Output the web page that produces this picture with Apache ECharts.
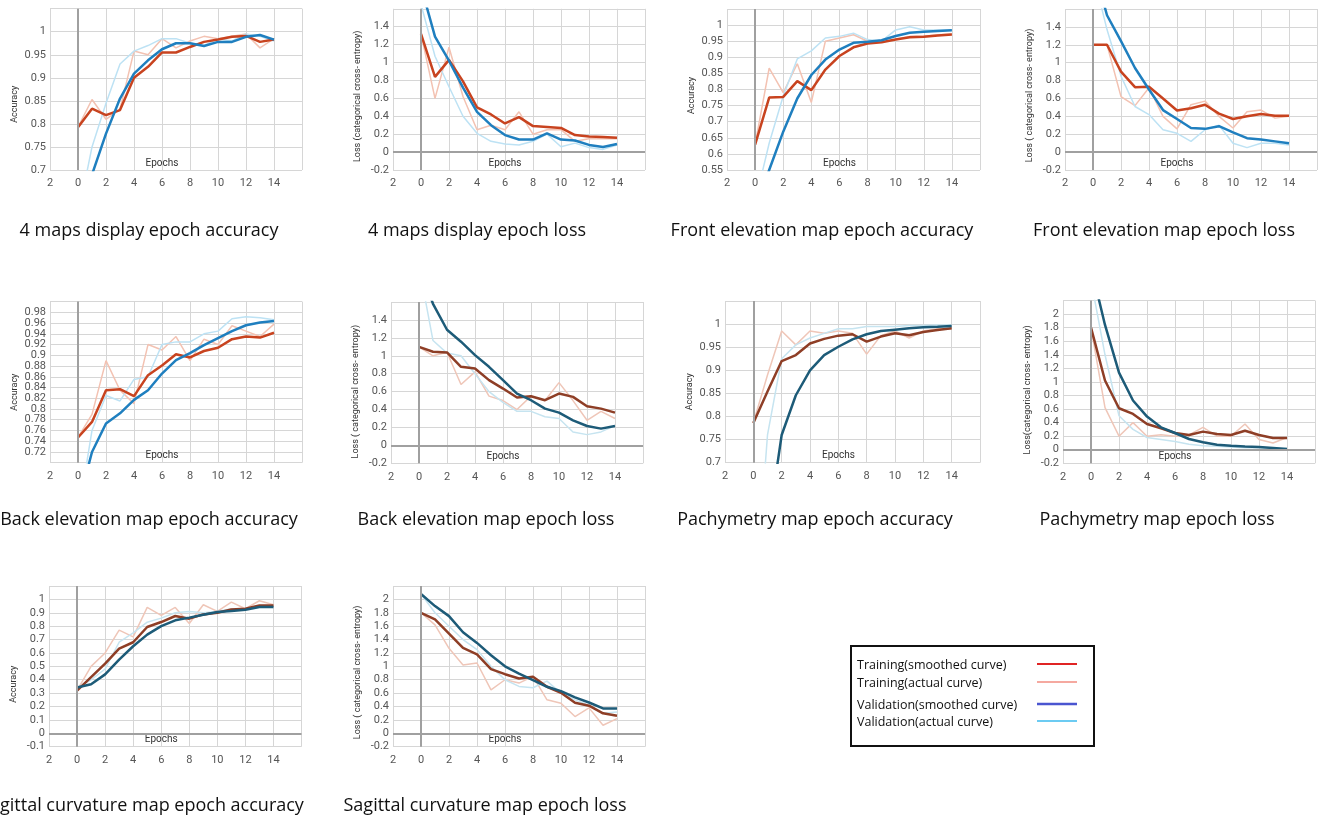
<!DOCTYPE html>
<html><head><meta charset="utf-8">
<script src="https://cdn.jsdelivr.net/npm/echarts/dist/echarts.min.js"></script>
<style>html,body{margin:0;padding:0;background:#fff}#c{width:1321px;height:822px}</style>
</head><body><div id="c"></div><script>
const EPOCHS = [0,1,2,3,4,5,6,7,8,9,10,11,12,13,14];

// 4 maps display
const mapsAccTrainSmooth = [0.793,0.833,0.819,0.830,0.900,0.924,0.955,0.955,0.967,0.978,0.983,0.989,0.991,0.978,0.983];
const mapsAccTrainActual = [0.793,0.853,0.810,0.832,0.958,0.950,0.985,0.965,0.980,0.990,0.985,0.990,0.995,0.965,0.985];
const mapsAccValSmooth   = [0.600,0.690,0.779,0.855,0.909,0.938,0.962,0.975,0.975,0.969,0.978,0.978,0.989,0.993,0.983];
const mapsAccValActual   = [0.600,0.750,0.845,0.930,0.958,0.970,0.985,0.985,0.975,0.970,0.985,0.980,0.995,0.990,0.980];
const mapsLossTrainSmooth = [1.32,0.84,1.03,0.79,0.50,0.42,0.32,0.39,0.29,0.28,0.27,0.19,0.175,0.168,0.16];
const mapsLossTrainActual = [1.32,0.60,1.17,0.62,0.25,0.30,0.25,0.45,0.20,0.25,0.25,0.12,0.15,0.15,0.15];
const mapsLossValSmooth   = [1.85,1.29,1.02,0.72,0.45,0.30,0.19,0.14,0.14,0.21,0.14,0.13,0.08,0.056,0.09];
const mapsLossValActual   = [1.65,1.07,0.73,0.40,0.21,0.12,0.09,0.08,0.12,0.20,0.06,0.10,0.05,0.03,0.08];

// Front elevation map
const frontAccTrainSmooth = [0.629,0.775,0.777,0.826,0.798,0.862,0.904,0.931,0.943,0.947,0.955,0.962,0.964,0.968,0.971];
const frontAccTrainActual = [0.629,0.866,0.790,0.880,0.760,0.950,0.960,0.970,0.950,0.948,0.955,0.965,0.965,0.970,0.972];
const frontAccValSmooth   = [0.420,0.550,0.669,0.772,0.845,0.893,0.924,0.945,0.948,0.953,0.966,0.976,0.979,0.982,0.984];
const frontAccValActual   = [0.450,0.633,0.780,0.895,0.920,0.960,0.965,0.975,0.955,0.950,0.985,0.995,0.985,0.985,0.985];
const frontLossTrainSmooth = [1.20,1.20,0.90,0.726,0.73,0.60,0.465,0.49,0.53,0.43,0.37,0.40,0.425,0.406,0.406];
const frontLossTrainActual = [1.20,1.20,0.62,0.52,0.72,0.40,0.26,0.53,0.57,0.40,0.27,0.45,0.47,0.38,0.40];
const frontLossValSmooth   = [2.10,1.53,1.24,0.94,0.70,0.47,0.37,0.27,0.26,0.29,0.22,0.156,0.14,0.12,0.10];
const frontLossValActual   = [2.00,1.37,0.85,0.51,0.42,0.25,0.21,0.12,0.25,0.30,0.10,0.05,0.10,0.10,0.08];

// Back elevation map
const backAccTrainSmooth = [0.747,0.776,0.835,0.837,0.824,0.863,0.881,0.902,0.896,0.908,0.914,0.930,0.935,0.933,0.942];
const backAccTrainActual = [0.747,0.790,0.890,0.835,0.810,0.920,0.910,0.935,0.890,0.930,0.920,0.955,0.945,0.935,0.958];
const backAccValSmooth   = [0.620,0.720,0.773,0.792,0.817,0.835,0.866,0.891,0.904,0.919,0.932,0.945,0.956,0.961,0.964];
const backAccValActual   = [0.600,0.760,0.825,0.815,0.855,0.860,0.920,0.925,0.925,0.940,0.945,0.968,0.972,0.970,0.966];
const backLossTrainSmooth = [1.10,1.045,1.037,0.877,0.858,0.728,0.634,0.534,0.548,0.504,0.578,0.541,0.437,0.41,0.366];
const backLossTrainActual = [1.10,1.00,1.04,0.68,0.82,0.55,0.50,0.40,0.55,0.50,0.70,0.50,0.28,0.38,0.30];
const backLossValSmooth   = [2.00,1.58,1.29,1.157,1.007,0.877,0.728,0.578,0.504,0.41,0.366,0.28,0.216,0.187,0.216];
const backLossValActual   = [2.00,1.17,1.03,1.00,0.80,0.60,0.48,0.38,0.38,0.32,0.30,0.15,0.12,0.15,0.22];

// Pachymetry map
const pachyAccTrainSmooth = [0.786,0.854,0.920,0.933,0.958,0.968,0.975,0.978,0.962,0.973,0.980,0.976,0.983,0.987,0.991];
const pachyAccTrainActual = [0.786,0.890,0.985,0.955,0.985,0.980,0.985,0.980,0.935,0.975,0.985,0.970,0.985,0.990,0.990];
const pachyAccValSmooth   = [0.300,0.550,0.760,0.846,0.900,0.933,0.951,0.967,0.978,0.985,0.988,0.991,0.993,0.994,0.996];
const pachyAccValActual   = [0.350,0.760,0.925,0.955,0.970,0.980,0.990,0.990,0.995,0.995,0.995,0.997,0.997,0.998,0.998];
const pachyLossTrainSmooth = [1.80,1.02,0.612,0.528,0.38,0.316,0.247,0.217,0.267,0.232,0.217,0.28,0.217,0.173,0.173];
const pachyLossTrainActual = [1.80,0.62,0.20,0.40,0.20,0.22,0.20,0.22,0.33,0.20,0.20,0.38,0.15,0.10,0.18];
const pachyLossValSmooth   = [2.70,1.84,1.136,0.726,0.489,0.33,0.247,0.158,0.109,0.074,0.059,0.049,0.04,0.025,0.01];
const pachyLossValActual   = [2.50,1.40,0.50,0.30,0.18,0.15,0.12,0.08,0.06,0.05,0.04,0.03,0.03,0.02,0.02];

// Sagittal curvature map
const sagAccTrainSmooth = [0.318,0.42,0.52,0.633,0.68,0.794,0.831,0.876,0.856,0.888,0.90,0.925,0.93,0.955,0.955];
const sagAccTrainActual = [0.32,0.50,0.60,0.77,0.72,0.94,0.88,0.94,0.82,0.96,0.91,0.98,0.93,0.99,0.96];
const sagAccValSmooth   = [0.342,0.367,0.44,0.55,0.65,0.737,0.80,0.844,0.864,0.886,0.906,0.913,0.923,0.943,0.943];
const sagAccValActual   = [0.34,0.40,0.48,0.68,0.75,0.83,0.86,0.90,0.91,0.90,0.91,0.93,0.93,0.95,0.94];
const sagLossTrainSmooth = [1.80,1.70,1.49,1.275,1.18,0.958,0.883,0.819,0.844,0.695,0.605,0.457,0.412,0.298,0.263];
const sagLossTrainActual = [1.80,1.62,1.27,1.02,1.05,0.65,0.80,0.75,0.85,0.50,0.45,0.25,0.38,0.12,0.22];
const sagLossValSmooth   = [2.08,1.90,1.75,1.51,1.35,1.166,1.00,0.893,0.794,0.695,0.63,0.536,0.46,0.372,0.372];
const sagLossValActual   = [2.08,1.80,1.60,1.40,1.25,1.00,0.80,0.70,0.68,0.78,0.60,0.50,0.42,0.30,0.32];

const TITLES = [
  '4 maps display epoch accuracy','4 maps display epoch loss',
  'Front elevation map epoch accuracy','Front elevation map epoch loss',
  'Back elevation map epoch accuracy','Back elevation map epoch loss',
  'Pachymetry map epoch accuracy','Pachymetry map epoch loss',
  'Sagittal curvature map epoch accuracy','Sagittal curvature map epoch loss'
];
const Y_NAMES = [
  'Accuracy','Loss (categorical cross- entropy)',
  'Accuracy','Loss ( categorical cross- entropy)',
  'Accuracy','Loss ( categorical cross- entropy)',
  'Accuracy','Loss(categorical cross- entropy)',
  'Accuracy','Loss ( categorical cross- entropy)'
];
const LEGEND_LABELS = ['Training(smoothed curve)','Training(actual curve)','Validation(smoothed curve)','Validation(actual curve)'];

const PAL_A = {ts:'#c8431f', ta:'#f3c2b2', vs:'#1f7fbf', va:'#bde2f4'};
const PAL_B = {ts:'#8e3e26', ta:'#efc6b8', vs:'#1d5b78', va:'#c6e4f0'};

const panels = [
  {scale:[0.7,1.05,0.05], box:[50,8.7,252,161.3], s:[mapsAccTrainSmooth,mapsAccTrainActual,mapsAccValSmooth,mapsAccValActual], pal:PAL_A, tpos:[149,231], shift:15},
  {scale:[-0.2,1.6,0.2], box:[393,8.8,252,161.2], s:[mapsLossTrainSmooth,mapsLossTrainActual,mapsLossValSmooth,mapsLossValActual], pal:PAL_A, tpos:[477,231], shift:7},
  {scale:[0.55,1.05,0.05], box:[727,9,253,161], s:[frontAccTrainSmooth,frontAccTrainActual,frontAccValSmooth,frontAccValActual], pal:PAL_A, tpos:[822,231], shift:6},
  {scale:[-0.2,1.6,0.2], box:[1065,9,252,161], s:[frontLossTrainSmooth,frontLossTrainActual,frontLossValSmooth,frontLossValActual], pal:PAL_A, tpos:[1164,231], shift:6},
  {scale:[0.7,1.0,0.02], box:[50,301.6,252,161.1], s:[backAccTrainSmooth,backAccTrainActual,backAccValSmooth,backAccValActual], pal:PAL_A, tpos:[149,520], shift:10},
  {scale:[-0.2,1.6,0.2], box:[391,302,252,161.3], s:[backLossTrainSmooth,backLossTrainActual,backLossValSmooth,backLossValActual], pal:PAL_B, tpos:[486,520], shift:9},
  {scale:[0.7,1.05,0.05], box:[725,301,255,161.7], s:[pachyAccTrainSmooth,pachyAccTrainActual,pachyAccValSmooth,pachyAccValActual], pal:PAL_B, tpos:[815,520], shift:10},
  {scale:[-0.2,2.2,0.2], box:[1063,300.5,252,162.8], s:[pachyLossTrainSmooth,pachyLossTrainActual,pachyLossValSmooth,pachyLossValActual], pal:PAL_B, tpos:[1157,520], shift:8},
  {scale:[-0.1,1.1,0.1], box:[49,586,252.5,160.7], s:[sagAccTrainSmooth,sagAccTrainActual,sagAccValSmooth,sagAccValActual], pal:PAL_B, tpos:[142,806], shift:18},
  {scale:[-0.2,2.2,0.2], box:[393,586,252,160.7], s:[sagLossTrainSmooth,sagLossTrainActual,sagLossValSmooth,sagLossValActual], pal:PAL_B, tpos:[485,806], shift:6}
];

const FONT = 'Roboto, "Liberation Sans", Arial, sans-serif';
const grids = [], xAxes = [], yAxes = [], series = [], graphics = [];

panels.forEach((p, i) => {
  grids.push({left:p.box[0], top:p.box[1], width:p.box[2], height:p.box[3], containLabel:false});
  xAxes.push({
    type:'value', gridIndex:i, min:-2, max:16, interval:2,
    axisLine:{show:false, onZero:false}, axisTick:{show:false},
    axisLabel:{color:'#555', fontSize:11, fontFamily:FONT, margin:8, showMaxLabel:false,
      formatter: v => String(Math.abs(v))},
    splitLine:{show:true, lineStyle:{color:'#d6d6d6', width:1}},
    name:'Epochs', nameLocation:'middle', nameGap:-12,
    nameTextStyle:{fontSize:10, color:'#333', fontFamily:FONT, padding:[0,28,0,0]}
  });
  yAxes.push({
    type:'value', gridIndex:i, min:p.scale[0], max:p.scale[1], interval:p.scale[2],
    axisLine:{show:false, onZero:false}, axisTick:{show:false},
    axisLabel:{color:'#555', fontSize:11, fontFamily:FONT, margin:4, showMaxLabel:false},
    splitLine:{show:true, lineStyle:{color:'#d6d6d6', width:1}},
    name:Y_NAMES[i], nameLocation:'middle', nameGap:31,
    nameTextStyle:{fontSize:9, color:'#333', fontFamily:FONT, padding:[0, 2*p.shift, 0, 0]}
  });
  const mk = {
    silent:true, symbol:['none','none'], label:{show:false}, animation:false,
    lineStyle:{color:'#a0a0a0', width:2, type:'solid'},
    emphasis:{disabled:true},
    data: p.scale[0] < 0 ? [{xAxis:0},{yAxis:0}] : [{xAxis:0}]
  };
  const defs = [
    [p.s[1], p.pal.ta, 1.5, mk],
    [p.s[3], p.pal.va, 1.5, null],
    [p.s[0], p.pal.ts, 2.5, null],
    [p.s[2], p.pal.vs, 2.5, null]
  ];
  defs.forEach(d => {
    const sr = {
      type:'line', xAxisIndex:i, yAxisIndex:i, clip:true, silent:true,
      showSymbol:false, symbol:'none', smooth:false,
      data: EPOCHS.map((e,k) => [e, d[0][k]]),
      lineStyle:{color:d[1], width:d[2]}, itemStyle:{color:d[1]}
    };
    if (d[3]) sr.markLine = d[3];
    series.push(sr);
  });
  graphics.push({type:'text', x:p.tpos[0], y:p.tpos[1], silent:true,
    style:{text:TITLES[i], fill:'#111', font:'18px "Open Sans", sans-serif', textAlign:'center', textVerticalAlign:'middle'}});
});

// legend box
graphics.push({type:'rect', shape:{x:851, y:646, width:243, height:100}, silent:true,
  style:{fill:'#fff', stroke:'#111', lineWidth:2}});
const legendColors = ['#e02424','#f5a9a0','#4a55d0','#6ccbf2'];
const legendY = [665, 683, 705, 722];
LEGEND_LABELS.forEach((t, k) => {
  graphics.push({type:'text', x:857, y:legendY[k], silent:true,
    style:{text:t, fill:'#111', font:'12.5px "Open Sans", sans-serif', textVerticalAlign:'middle'}});
  graphics.push({type:'line', silent:true, shape:{x1:1037, y1:legendY[k]-1, x2:1077, y2:legendY[k]-1},
    style:{stroke:legendColors[k], lineWidth: k===2 ? 2.5 : 2}});
});

const chart = echarts.init(document.getElementById('c'), null, {renderer:'canvas'});
chart.setOption({
  animation:false,
  backgroundColor:'#fff',
  grid:grids, xAxis:xAxes, yAxis:yAxes, series:series,
  graphic:graphics
});
</script></body></html>
